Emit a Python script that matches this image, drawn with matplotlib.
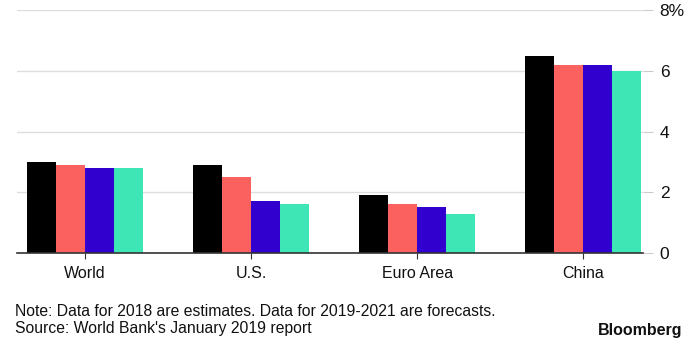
import matplotlib
matplotlib.use("Agg")
import matplotlib.pyplot as plt
import numpy as np

plt.rcParams['font.family'] = ['Liberation Sans', 'DejaVu Sans']

categories = ["World", "U.S.", "Euro Area", "China"]
years = ["2018", "2019", "2020", "2021"]
v2018 = [3.0, 2.9, 1.9, 6.5]
v2019 = [2.9, 2.5, 1.6, 6.2]
v2020 = [2.8, 1.7, 1.5, 6.2]
v2021 = [2.8, 1.6, 1.3, 6.0]
series = [v2018, v2019, v2020, v2021]
colors = ["#000000", "#fb625f", "#3100cf", "#3ee6b6"]
yticks = [0, 2, 4, 6, 8]
ylabels = ["0", "2", "4", "6", "8%"]

fig = plt.figure(figsize=(7, 3.5), dpi=100)
ax = fig.add_axes([17/700, 1-253/350, (643-17)/700, (253-10)/350])

x = np.arange(len(categories))
w = 0.175
for i, (vals, c) in enumerate(zip(series, colors)):
    ax.bar(x + (i - 1.5) * w, vals, width=w, color=c, label=years[i], zorder=3)

ax.set_xlim(-0.41, 3.36)
ax.set_ylim(0, 8)
ax.set_xticks(x)
ax.set_xticklabels(categories, fontsize=11.5, color='#111111')
ax.set_yticks(yticks)
ax.set_yticklabels(ylabels, fontsize=12.5, color='#111111')
ax.yaxis.tick_right()
ax.tick_params(axis='y', length=7, color='#cccccc', pad=5, right=True, left=False)
ax.tick_params(axis='x', length=4, color='#333333', pad=5)
ax.grid(axis='y', color='#dddddd', linewidth=1, zorder=0)
for s in ['top', 'left', 'right']:
    ax.spines[s].set_visible(False)
ax.spines['bottom'].set_color('#333333')
ax.spines['bottom'].set_linewidth(1.2)
ax.spines['bottom'].set_zorder(4)

fig.text(15/700, 1-311/350, "Note: Data for 2018 are estimates. Data for 2019-2021 are forecasts.",
         fontsize=11.3, va='center', ha='left', color='#111111')
fig.text(15/700, 1-328/350, "Source: World Bank's January 2019 report",
         fontsize=11.3, va='center', ha='left', color='#111111')
fig.text(682/700, 1-330/350, "Bloomberg", fontsize=11.5, fontweight='bold',
         va='center', ha='right', color='#111111')

fig.savefig("out.png", dpi=100)
